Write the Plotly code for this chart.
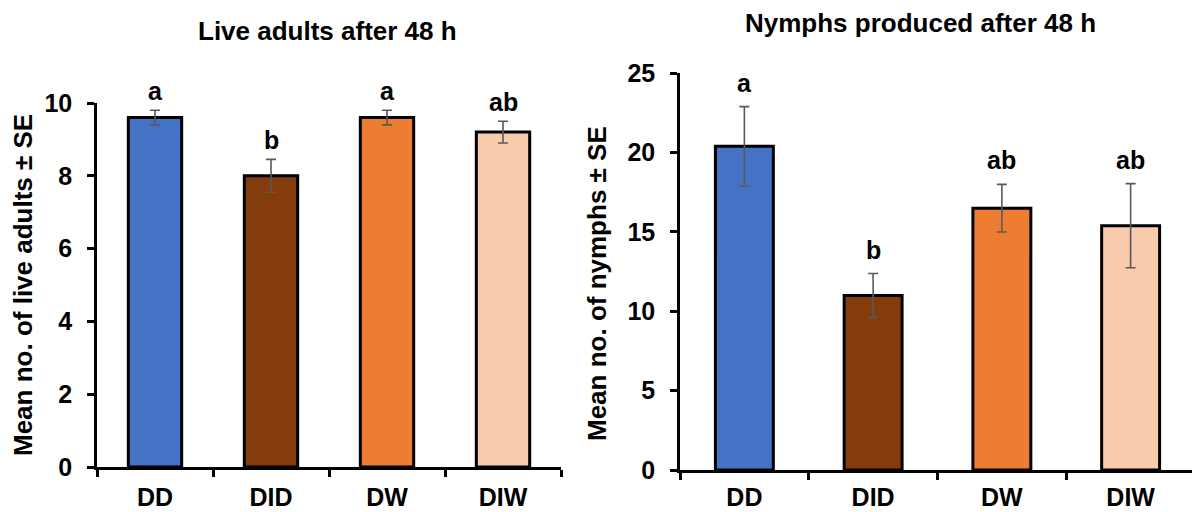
import plotly.graph_objects as go

categories = ["DD", "DID", "DW", "DIW"]
colors = ["#4472C4", "#843C0C", "#ED7D31", "#F8CBAD"]

adults_mean = [9.6, 8.0, 9.6, 9.2]
adults_se = [0.2, 0.45, 0.2, 0.3]
adults_letters = ["a", "b", "a", "ab"]

nymphs_mean = [20.4, 11.0, 16.5, 15.4]
nymphs_se = [2.5, 1.38, 1.5, 2.65]
nymphs_letters = ["a", "b", "ab", "ab"]

W, H = 1192, 512
FONT = "Liberation Sans, Arial, sans-serif"

def px(x):
    return x / W

def py(y):
    return 1 - y / H

fig = go.Figure()

err_style = dict(type="data", color="#595959", thickness=1.6, width=5, visible=True)

fig.add_trace(go.Bar(
    x=categories, y=adults_mean, width=0.46,
    marker=dict(color=colors, line=dict(color="black", width=3)),
    error_y=dict(array=adults_se, **err_style),
    xaxis="x", yaxis="y", showlegend=False,
))
fig.add_trace(go.Bar(
    x=categories, y=nymphs_mean, width=0.45,
    marker=dict(color=colors, line=dict(color="black", width=3)),
    error_y=dict(array=nymphs_se, **err_style),
    xaxis="x2", yaxis="y2", showlegend=False,
))

LFONT = dict(family=FONT, size=25, color="black", weight="bold")
TFONT = dict(family=FONT, size=26, color="black", weight="bold")

annotations = []
for c, m, s, t in zip(categories, adults_mean, adults_se, adults_letters):
    annotations.append(dict(x=c, y=m + s, xref="x", yref="y", text=t, showarrow=False,
                            yanchor="bottom", yshift=3, font=LFONT))
for c, m, s, t in zip(categories, nymphs_mean, nymphs_se, nymphs_letters):
    annotations.append(dict(x=c, y=m + s, xref="x2", yref="y2", text=t, showarrow=False,
                            yanchor="bottom", yshift=8, font=LFONT))

# titles
annotations.append(dict(x=px(327), y=py(31), xref="paper", yref="paper", text="Live adults after 48 h",
                        showarrow=False, xanchor="center", yanchor="middle", font=TFONT))
annotations.append(dict(x=px(920), y=py(23), xref="paper", yref="paper", text="Nymphs produced after 48 h",
                        showarrow=False, xanchor="center", yanchor="middle", font=TFONT))
# y-axis titles
annotations.append(dict(x=px(23), y=py(285), xref="paper", yref="paper", text="Mean no. of live adults ± SE",
                        showarrow=False, xanchor="center", yanchor="middle", textangle=-90, font=TFONT))
annotations.append(dict(x=px(597), y=py(284), xref="paper", yref="paper", text="Mean no. of nymphs ± SE",
                        showarrow=False, xanchor="center", yanchor="middle", textangle=-90, font=TFONT))

tickfont = dict(family=FONT, size=25, color="black", weight="bold")

xcommon = dict(type="category", showline=True, linecolor="black", linewidth=2.5,
               ticks="outside", tickson="boundaries", ticklen=7, tickwidth=2.5, tickcolor="black",
               tickfont=tickfont, showgrid=False, zeroline=False, fixedrange=True,
               automargin=False)
ycommon = dict(showline=True, linecolor="black", linewidth=2.5,
               ticks="outside", ticklen=7, tickwidth=2.5, tickcolor="black",
               tickfont=tickfont, showgrid=False, zeroline=False, fixedrange=True,
               automargin=False, ticklabelstandoff=10)

right_end = 3.5 - (1195 - 1192) / 129.0

fig.update_layout(
    width=W, height=H,
    margin=dict(l=0, r=0, t=0, b=0),
    paper_bgcolor="white", plot_bgcolor="white",
    barmode="group",
    xaxis=dict(domain=[px(97), px(561)], range=[-0.5, 3.5], anchor="y",
               ticklabelstandoff=6, **xcommon),
    yaxis=dict(domain=[py(467), py(103)], range=[0, 10], dtick=2, anchor="x", **ycommon),
    xaxis2=dict(domain=[px(680), 1.0], range=[-0.5, right_end], anchor="y2",
                ticklabelstandoff=3, **xcommon),
    yaxis2=dict(domain=[py(470), py(73.3)], range=[0, 25], dtick=5, anchor="x2", **ycommon),
    annotations=annotations,
)

fig.write_html("out.html")
